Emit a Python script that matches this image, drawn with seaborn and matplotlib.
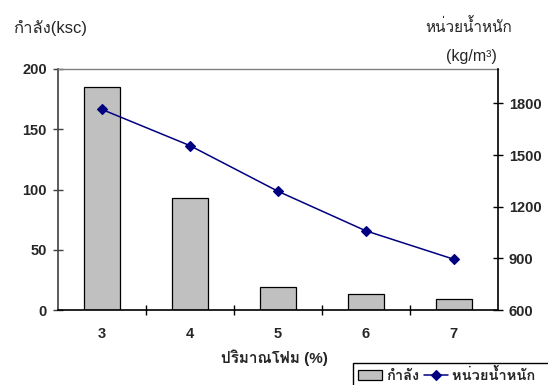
import matplotlib
matplotlib.use("Agg")
import matplotlib.pyplot as plt
import seaborn as sns
import pandas as pd

# Foam content (%) vs. compressive strength and unit weight
foam_pct = ["3", "4", "5", "6", "7"]
strength_ksc = [185, 93, 19, 13, 9]
unit_weight = [1765, 1555, 1290, 1060, 895]

strength_ticks = [0, 50, 100, 150, 200]
weight_ticks = [600, 900, 1200, 1500, 1800]

sns.set_theme(style="ticks")
plt.rcParams["font.family"] = ["Liberation Sans", "Loma"]
plt.rcParams["axes.unicode_minus"] = False

df = pd.DataFrame({"foam": foam_pct, "strength": strength_ksc, "weight": unit_weight})

fig = plt.figure(figsize=(5.48, 3.85), dpi=100)
W, H = 548, 385
left, right, top, bottom = 58, 497.7, 69, 310
ax = fig.add_axes([left / W, 1 - bottom / H, (right - left) / W, (bottom - top) / H])

sns.barplot(data=df, x="foam", y="strength", ax=ax, width=0.41,
            color="#C0C0C0", edgecolor="black", linewidth=0.9,
            saturation=1, label="กำลัง")

ax2 = ax.twinx()
sns.pointplot(data=df, x="foam", y="weight", ax=ax2, color="#000080",
              markers="D", markersize=5, linewidth=1.1, errorbar=None,
              label="หน่วยน้ำหนัก")

for a in (ax, ax2):
    if a.get_legend() is not None:
        a.get_legend().remove()

ax.set_xlim(-0.5, 4.5)
ax.set_ylim(0, 200)
ax2.set_ylim(600, 2000)
ax.set_yticks(strength_ticks)
ax2.set_yticks(weight_ticks)

# category labels at centres, tick marks at category boundaries
ax.set_xticks(range(len(foam_pct)))
ax.set_xticklabels(foam_pct)
ax.set_xticks([0.5, 1.5, 2.5, 3.5], minor=True)
ax.tick_params(axis="x", which="major", length=0, pad=12, labelsize=10.5)
ax.tick_params(axis="x", which="minor", length=7, width=1.0,
               direction="inout", color="black")
ax.tick_params(axis="y", length=7, width=1.0, direction="inout",
               color="#404040", pad=4.5, labelsize=10.5)
ax2.tick_params(axis="y", length=7, width=1.0, direction="inout",
                color="black", pad=4.5, labelsize=10.5)
ax2.tick_params(axis="x", length=0)

for lab in ax.get_xticklabels() + ax.get_yticklabels() + ax2.get_yticklabels():
    lab.set_fontweight("bold")

# frame
ax.spines["left"].set_color("#404040")
ax.spines["left"].set_linewidth(1.2)
ax.spines["bottom"].set_color("black")
ax.spines["bottom"].set_linewidth(1.2)
ax.spines["top"].set_visible(True)
ax.spines["top"].set_color("#808080")
ax.spines["top"].set_linewidth(1.0)
ax.spines["right"].set_visible(False)
for s in ("left", "top", "bottom"):
    ax2.spines[s].set_visible(False)
ax2.spines["right"].set_visible(True)
ax2.spines["right"].set_color("black")
ax2.spines["right"].set_linewidth(1.2)

def ax_frac(px, py):
    return (px - left) / (right - left), (bottom - py) / (bottom - top)

ax.set_xlabel("ปริมาณโฟม (%)", fontsize=11, fontweight="bold", va="center")
ax.xaxis.set_label_coords(*ax_frac(274.5, 358))

ax.set_ylabel("กำลัง(ksc)", fontsize=12, rotation=0, ha="center", va="center")
ax.yaxis.set_label_coords(*ax_frac(50, 28))

ax2.set_ylabel("หน่วยน้ำหนัก", fontsize=11, rotation=0, ha="center", va="center")
ax2.yaxis.set_label_coords(*ax_frac(469, 27))
ax2.text(*ax_frac(471, 57), "(kg/m³)", transform=ax2.transAxes, fontsize=11.5,
         ha="center", va="center")

# legend box runs off the lower-right corner of the canvas
h1, l1 = ax.get_legend_handles_labels()
h2, l2 = ax2.get_legend_handles_labels()
labels = l1 + [lab + "   " for lab in l2]
leg = fig.legend(h1 + h2, labels, loc="upper left",
                 bbox_to_anchor=(353 / W, 1 - 363 / H), ncol=2,
                 frameon=True, fancybox=False, edgecolor="black",
                 framealpha=1, borderaxespad=0, borderpad=0.32,
                 handlelength=1.65, handletextpad=0.28, columnspacing=0.35,
                 prop={"weight": "bold", "size": 10.5})
leg.get_frame().set_linewidth(1.0)

fig.savefig("out.png", dpi=100)
